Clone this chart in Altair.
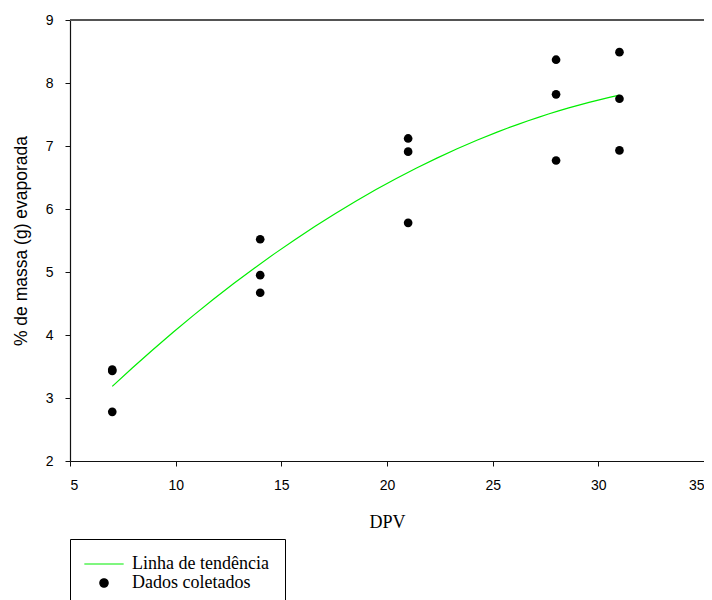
import altair as alt
import pandas as pd

dpv = [7, 7, 7, 14, 14, 14, 21, 21, 21, 28, 28, 28, 31, 31, 31]
massa = [3.45, 3.43, 2.78, 5.52, 4.95, 4.67, 7.12, 6.91, 5.78,
         8.37, 7.82, 6.77, 8.49, 7.75, 6.93]
series_names = ["Linha de tendência", "Dados coletados"]
x_ticks = [5, 10, 15, 20, 25, 30, 35]
y_ticks = [2, 3, 4, 5, 6, 7, 8, 9]

df = pd.DataFrame({"dpv": dpv, "massa": massa, "serie": series_names[1]})

W, H = 634, 441

color_scale = alt.Scale(domain=series_names, range=["#00ee00", "#000000"])
shape_scale = alt.Scale(domain=series_names, range=["M-4.7,0L4.7,0", "circle"])

legend = alt.Legend(
    title=None,
    orient="none",
    legendX=0,
    legendY=519,
    strokeColor="#000000",
    fillColor="#ffffff",
    padding=16,
    labelFont="Liberation Serif",
    labelFontSize=18,
    labelColor="#000000",
    labelOffset=19,
    symbolOffset=9,
    rowPadding=1,
    symbolSize=70,
    symbolFillColor="#000000",
    symbolStrokeWidth=1.2,
)

x_enc = alt.X(
    "dpv:Q",
    scale=alt.Scale(domain=[5, 35], nice=False, zero=False),
    axis=alt.Axis(values=x_ticks, title="DPV", format="d"),
)
y_enc = alt.Y(
    "massa:Q",
    scale=alt.Scale(domain=[2, 9], nice=False, zero=False),
    axis=alt.Axis(values=y_ticks, title="% de massa (g) evaporada", format="d"),
)

trend = alt.Chart(df).transform_regression(
    "dpv", "massa", method="poly", order=2, extent=[7, 31]
).transform_calculate(
    serie="'Linha de tendência'"
).mark_line(strokeWidth=1.2).encode(
    x=x_enc,
    y=y_enc,
    color=alt.Color("serie:N", scale=color_scale, legend=legend),
    shape=alt.Shape("serie:N", scale=shape_scale, legend=legend),
)

points = alt.Chart(df).mark_point(filled=True, size=75, opacity=1).encode(
    x=alt.X("dpv:Q"),
    y=alt.Y("massa:Q"),
    color=alt.Color("serie:N", scale=color_scale, legend=legend),
    shape=alt.Shape("serie:N", scale=shape_scale, legend=legend),
)

top_border = alt.Chart(df).mark_rule(color="#555555", strokeWidth=1.5).encode(
    x=alt.value(0), x2=alt.value(W), y=alt.value(0)
)

chart = alt.layer(trend, points, top_border).properties(
    width=W,
    height=H,
    autosize=alt.AutoSizeParams(type="none"),
    padding={"left": 62, "top": 12, "right": 0, "bottom": 139},
).configure_view(
    stroke=None
).configure_axis(
    grid=False,
    domainColor="#111111",
    domainWidth=1.2,
    tickColor="#111111",
    tickSize=5,
    labelFont="Liberation Sans",
    labelFontSize=14,
    labelColor="#000000",
    titleColor="#000000",
    titleFontWeight="normal",
).configure_axisX(
    labelPadding=12,
    titleFont="Liberation Serif",
    titleFontSize=18,
    titlePadding=21,
).configure_axisY(
    labelPadding=12,
    titleFont="Liberation Sans",
    titleFontSize=17.5,
    titlePadding=15,
)

chart.save("out.html", embed_options={"renderer": "svg", "actions": False})
